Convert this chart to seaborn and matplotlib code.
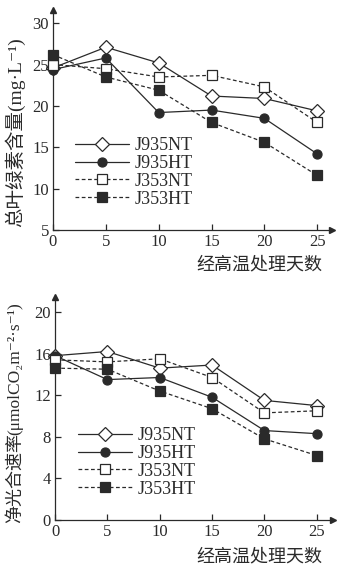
import matplotlib
matplotlib.use("Agg")
import matplotlib.pyplot as plt
import seaborn as sns
import pandas as pd

sns.set_theme(style="white")
plt.rcParams['font.family'] = ['Liberation Serif', 'Noto Sans CJK SC', 'DejaVu Sans']

days = [0, 5, 10, 15, 20, 25]
series_names = ["J935NT", "J935HT", "J353NT", "J353HT"]

chl_J935NT = [24.6, 27.1, 25.2, 21.2, 20.9, 19.4]
chl_J935HT = [24.4, 25.8, 19.2, 19.5, 18.5, 14.2]
chl_J353NT = [25.0, 24.5, 23.5, 23.7, 22.3, 18.0]
chl_J353HT = [26.2, 23.5, 21.9, 18.0, 15.6, 11.6]

pn_J935NT = [15.8, 16.2, 14.6, 14.9, 11.5, 11.0]
pn_J935HT = [15.8, 13.5, 13.7, 11.8, 8.6, 8.3]
pn_J353NT = [15.4, 15.2, 15.5, 13.7, 10.3, 10.5]
pn_J353HT = [14.6, 14.5, 12.4, 10.7, 7.8, 6.2]

top_yticks = [5, 10, 15, 20, 25, 30]
bot_yticks = [0, 4, 8, 12, 16, 20]
top_ylabel = "总叶绿素含量(mg·L⁻¹)"
bot_ylabel_cjk = "净光合速率"
bot_ylabel_unit = "(μmolCO₂m⁻²·s⁻¹)"
xlabel = "经高温处理天数"

INK = "#2a2a2a"
styles = {
    "J935NT": dict(marker="D", mfc="white", ls="-", ms=7),
    "J935HT": dict(marker="o", mfc=INK, ls="-", ms=6.5),
    "J353NT": dict(marker="s", mfc="white", ls=(0, (3, 2)), ms=6.5),
    "J353HT": dict(marker="s", mfc=INK, ls=(0, (3, 2)), ms=6.5),
}

W, H = 347, 574
fig = plt.figure(figsize=(W / 100, H / 100), dpi=100)


def px_axes(left, right, top, bottom):
    return fig.add_axes([left / W, 1 - bottom / H, (right - left) / W, (bottom - top) / H])


def draw(ax, data, ylim, yticks, xmax, leg_anchor):
    rows = []
    for name, vals in data.items():
        for d, v in zip(days, vals):
            rows.append(dict(day=d, value=v, series=name))
    df = pd.DataFrame(rows)
    for name in series_names:
        st = styles[name]
        sub = df[df.series == name]
        sns.lineplot(data=sub, x="day", y="value", ax=ax, color=INK, lw=0.9,
                     linestyle=st["ls"], marker=st["marker"], markersize=st["ms"],
                     markerfacecolor=st["mfc"], markeredgecolor=INK, markeredgewidth=0.9,
                     label=name, clip_on=False, zorder=3)
    ax.set_xlim(0, xmax)
    ax.set_ylim(*ylim)
    ax.set_xticks(days)
    ax.set_yticks(yticks)
    ax.set_xlabel("")
    ax.set_ylabel("")
    for s in ["top", "right"]:
        ax.spines[s].set_visible(False)
    for s in ["left", "bottom"]:
        ax.spines[s].set_color(INK)
        ax.spines[s].set_linewidth(0.9)
    ax.tick_params(direction="in", length=4, width=0.9, colors=INK, labelsize=12,
                   left=True, bottom=True, pad=3)
    ax.plot(1, 0, ">", transform=ax.transAxes, color=INK, ms=4, clip_on=False)
    ax.plot(0, 1, "^", transform=ax.transAxes, color=INK, ms=4, clip_on=False)
    ax.set_facecolor("white")
    leg = ax.legend(loc="upper left", bbox_to_anchor=leg_anchor, bbox_transform=fig.transFigure,
                    frameon=False, fontsize=13, handlelength=3.0, handletextpad=0.3,
                    labelspacing=0.05, borderpad=0, borderaxespad=0)
    for t in leg.get_texts():
        t.set_color(INK)


ax1 = px_axes(53, 332, 10, 230)
draw(ax1, {"J935NT": chl_J935NT, "J935HT": chl_J935HT, "J353NT": chl_J353NT, "J353HT": chl_J353HT},
     (5, 31.6), top_yticks, 26.4, (75 / W, 1 - 137 / H))
fig.text(15 / W, 1 - 132 / H, top_ylabel, rotation=90, ha="center", va="center",
         fontsize=14, color=INK)
fig.text(322 / W, 1 - 265 / H, xlabel, ha="right", va="center", fontsize=13, color=INK)

ax2 = px_axes(55, 333, 297, 520)
draw(ax2, {"J935NT": pn_J935NT, "J935HT": pn_J935HT, "J353NT": pn_J353NT, "J353HT": pn_J353HT},
     (0, 21.44), bot_yticks, 26.55, (78 / W, 1 - 427 / H))
fig.text(15 / W, 1 - 523 / H, bot_ylabel_cjk, rotation=90, rotation_mode="anchor",
         ha="left", va="center", fontsize=13, color=INK)
fig.text(15 / W, 1 - 435 / H, bot_ylabel_unit, rotation=90, rotation_mode="anchor",
         ha="left", va="center", fontsize=12.5, color=INK)
fig.text(322 / W, 1 - 557 / H, xlabel, ha="right", va="center", fontsize=13, color=INK)

fig.savefig("out.png", dpi=100, facecolor="white")
